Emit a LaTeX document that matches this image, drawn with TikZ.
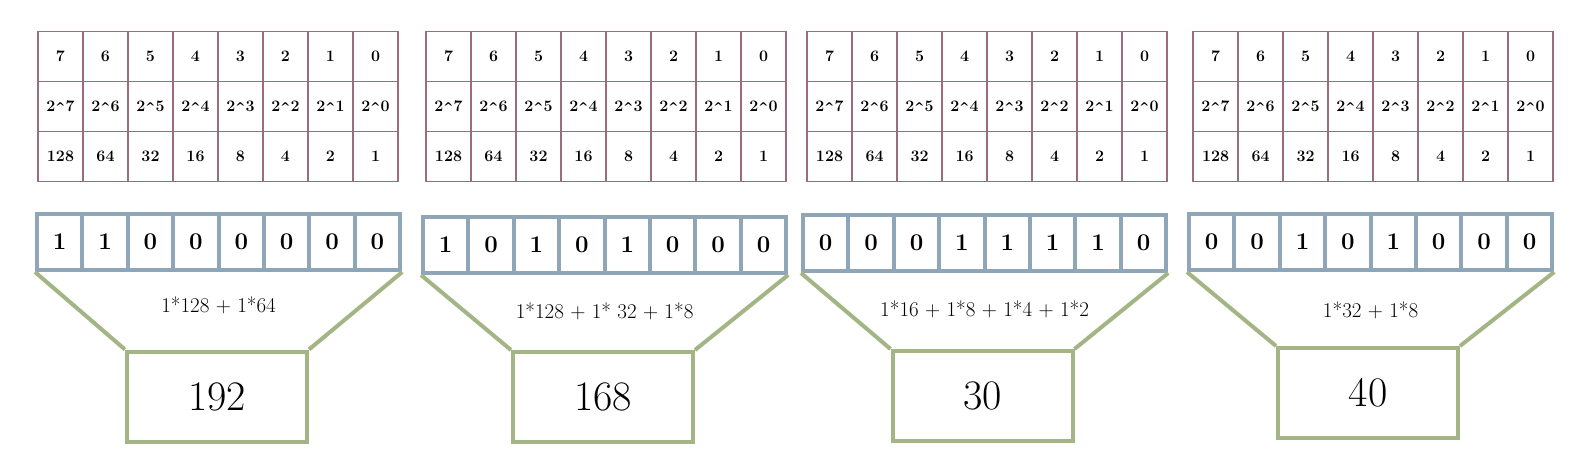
\documentclass[tikz,border=0pt]{standalone}
\usepackage{fontspec}
\newfontfamily\caretfont{DejaVu Serif}
\usetikzlibrary{calc}
\definecolor{tabline}{RGB}{155,108,125}
\definecolor{bitline}{RGB}{143,165,184}
\definecolor{sumline}{RGB}{164,181,133}
\newcommand{\crt}{{\caretfont\fontsize{12}{14}\selectfont\bfseries\^{}}}
\tikzset{
  tcell/.style={draw=tabline, line width=1.2pt, minimum width=45pt, minimum height=50pt, inner sep=0pt, font=\fontsize{16}{19}\selectfont\bfseries},
  bcell/.style={draw=bitline, line width=4pt, minimum width=45.4pt, minimum height=56pt, inner sep=0pt, font=\fontsize{24}{28}\selectfont\bfseries},
  numbox/.style={draw=sumline, line width=4pt, minimum width=180pt, minimum height=90pt, inner sep=0pt, font=\fontsize{42}{48}\selectfont},
  sumtext/.style={inner sep=0pt, font=\fontsize{21}{25}\selectfont},
  funnel/.style={draw=sumline, line width=4pt}
}
\begin{document}
\begin{tikzpicture}[x=1pt,y=-1pt]
\fill[white] (0,0) rectangle (1591,474);
\useasboundingbox (0,0) rectangle (1591,474);
% weight tables
\foreach \g/\tx in {1/38,2/426,3/807,4/1193} {
  \foreach \c/\lab/\val in {0/7/128,1/6/64,2/5/32,3/4/16,4/3/8,5/2/4,6/1/2,7/0/1} {
    \node[tcell] (t\g-1-\c) at (\tx+45*\c+22.5, 56.5) {\lab};
    \node[tcell] (t\g-2-\c) at (\tx+45*\c+22.5, 106.5) {2\crt\lab};
    \node[tcell] (t\g-3-\c) at (\tx+45*\c+22.5, 156.5) {\val};
  }
}
% bits, sums, results
\foreach \g/\bx/\by/\nx/\ny/\fy/\bits/\form/\num in {
  1/37/214/217/396.5/305/{1,1,0,0,0,0,0,0}/{1*128 + 1*64}/192,
  2/423/217/603/397/311/{1,0,1,0,1,0,0,0}/{1*128 + 1* 32 + 1*8}/168,
  3/803/215/982.5/396/309/{0,0,0,1,1,1,1,0}/{1*16 + 1*8 + 1*4 + 1*2}/30,
  4/1189/214/1368/393/310/{0,0,1,0,1,0,0,0}/{1*32 + 1*8}/40} {
  \foreach \b [count=\i from 0] in \bits {
    \node[bcell] (b\g-\i) at (\bx+45.4*\i+22.7, \by+28) {\b};
  }
  \node[numbox] (n\g) at (\nx,\ny) {\num};
  \node[sumtext] (s\g) at (\bx+181.6, \fy) {\form};
  \draw[funnel] (b\g-0.south west) -- (n\g.north west);
  \draw[funnel] (b\g-7.south east) -- (n\g.north east);
}
\end{tikzpicture}
\end{document}
